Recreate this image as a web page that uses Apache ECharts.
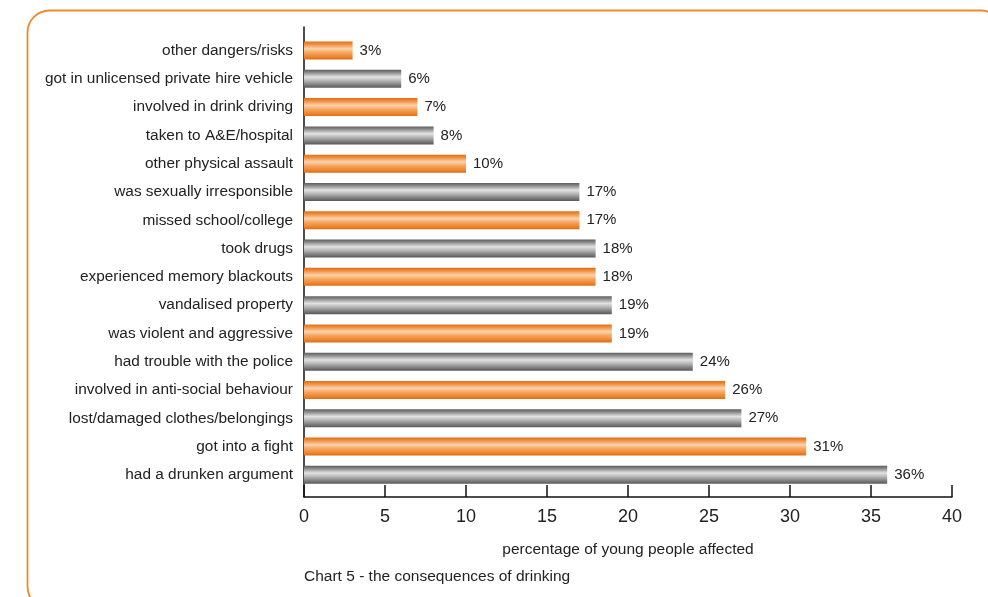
<!DOCTYPE html>
<html>
<head>
<meta charset="utf-8">
<script src="https://cdn.jsdelivr.net/npm/echarts@6/dist/echarts.min.js"></script>
<style>
html,body{margin:0;padding:0;background:#fff;}
#chart{width:988px;height:597px;}
</style>
</head>
<body>
<div id="chart"></div>
<script>
const categories = [
  "other dangers/risks",
  "got in unlicensed private hire vehicle",
  "involved in drink driving",
  "taken to A&E/hospital",
  "other physical assault",
  "was sexually irresponsible",
  "missed school/college",
  "took drugs",
  "experienced memory blackouts",
  "vandalised property",
  "was violent and aggressive",
  "had trouble with the police",
  "involved in anti-social behaviour",
  "lost/damaged clothes/belongings",
  "got into a fight",
  "had a drunken argument"
];
const values = [3, 6, 7, 8, 10, 17, 17, 18, 18, 19, 19, 24, 26, 27, 31, 36];
const xTicks = [0, 5, 10, 15, 20, 25, 30, 35, 40];
const axisTitle = "percentage of young people affected";
const caption = "Chart 5 - the consequences of drinking";

const FONT = "'Liberation Sans', Arial, Helvetica, sans-serif";
const orangeGrad = new echarts.graphic.LinearGradient(0, 0, 0, 1, [
  {offset: 0, color: '#E06E18'},
  {offset: 0.15, color: '#F08C3A'},
  {offset: 0.4, color: '#FBD2AC'},
  {offset: 0.62, color: '#F5A660'},
  {offset: 0.85, color: '#EE852C'},
  {offset: 1, color: '#DE6C16'}
]);
const grayGrad = new echarts.graphic.LinearGradient(0, 0, 0, 1, [
  {offset: 0, color: '#5c5c5c'},
  {offset: 0.15, color: '#8a8a8a'},
  {offset: 0.4, color: '#e2e2e2'},
  {offset: 0.62, color: '#b2b2b2'},
  {offset: 0.85, color: '#7a7a7a'},
  {offset: 1, color: '#585858'}
]);

const chart = echarts.init(document.getElementById('chart'), null, {renderer: 'canvas'});
chart.setOption({
  animation: false,
  backgroundColor: '#ffffff',
  textStyle: {fontFamily: FONT},
  grid: [
    {left: 304, right: 36, top: 36.4, bottom: 108},
    {left: 304, width: 1, top: 27, bottom: 100}
  ],
  xAxis: [
    {
      gridIndex: 0,
      type: 'value',
      min: xTicks[0],
      max: xTicks[xTicks.length - 1],
      interval: xTicks[1] - xTicks[0],
      offset: 8,
      axisLine: {show: true, lineStyle: {color: '#111', width: 1.5}},
      axisTick: {show: true, inside: true, length: 12, lineStyle: {color: '#111', width: 1.5}},
      splitLine: {show: false},
      axisLabel: {color: '#222', fontSize: 18, margin: 11, fontFamily: FONT},
      name: axisTitle,
      nameLocation: 'middle',
      nameGap: 45,
      nameTextStyle: {color: '#222', fontSize: 15.5, fontFamily: FONT}
    },
    {gridIndex: 1, type: 'value', show: false}
  ],
  yAxis: [
    {
      gridIndex: 0,
      type: 'category',
      data: categories,
      inverse: true,
      axisLine: {show: false},
      axisTick: {show: false},
      axisLabel: {color: '#222', fontSize: 15.4, margin: 11, fontFamily: FONT}
    },
    {
      gridIndex: 1,
      type: 'value',
      axisLine: {show: true, lineStyle: {color: '#111', width: 1.5}},
      axisTick: {show: false},
      axisLabel: {show: false},
      splitLine: {show: false}
    }
  ],
  series: [{
    type: 'bar',
    xAxisIndex: 0,
    yAxisIndex: 0,
    data: values,
    barWidth: 18,
    itemStyle: {
      color: function (p) { return p.dataIndex % 2 === 0 ? orangeGrad : grayGrad; }
    },
    label: {
      show: true,
      position: 'right',
      distance: 7,
      formatter: '{c}%',
      color: '#222',
      fontSize: 15,
      fontFamily: FONT
    }
  }],
  graphic: [
    {
      type: 'rect',
      shape: {x: 27.5, y: 10.5, width: 975, height: 598, r: 22},
      style: {fill: 'none', stroke: '#F0892E', lineWidth: 1.8},
      silent: true
    },
    {
      type: 'text',
      left: 304,
      top: 569,
      style: {text: caption, fill: '#222', fontSize: 15.5, fontFamily: FONT}
    }
  ]
});
</script>
</body>
</html>
